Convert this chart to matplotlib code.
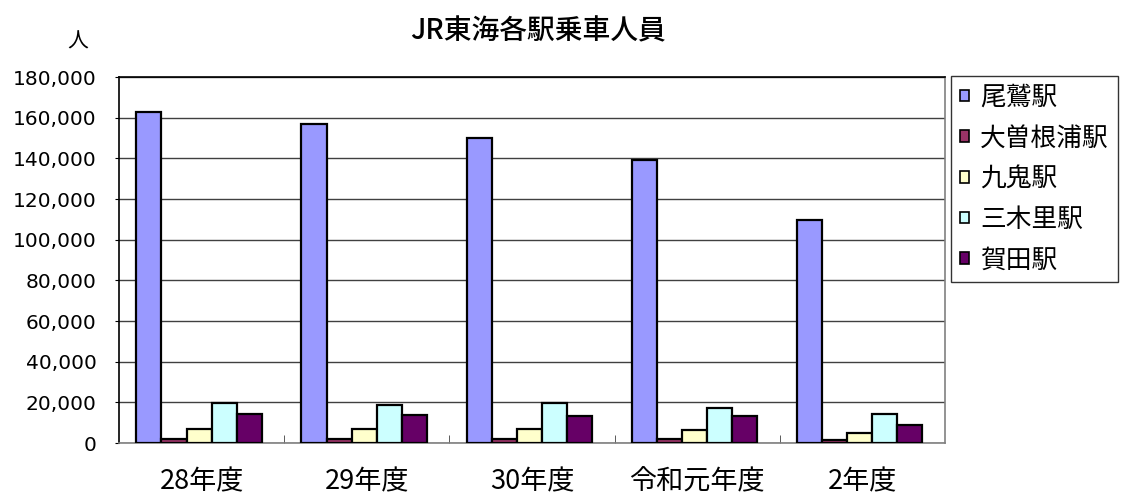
import numpy as np
import matplotlib
matplotlib.use("Agg")
import matplotlib.pyplot as plt
from matplotlib.ticker import FuncFormatter, FixedLocator

plt.rcParams['font.family'] = ['Noto Sans CJK JP', 'DejaVu Sans']

years = ['28年度', '29年度', '30年度', '令和元年度', '2年度']
stations = ['尾鷲駅', '大曽根浦駅', '九鬼駅', '三木里駅', '賀田駅']
owase = [162600, 156700, 150100, 139300, 109500]
osonehura = [2000, 2000, 2000, 2100, 1500]
kuki = [6700, 7100, 7100, 6200, 5100]
mikisato = [19600, 18500, 19600, 17400, 14400]
kata = [14300, 13900, 13300, 13100, 8800]
colors = ['#9999FF', '#993366', '#FFFFCC', '#CCFFFF', '#660066']

series = [owase, osonehura, kuki, mikisato, kata]

fig = plt.figure(figsize=(11.26, 4.93), dpi=100)
ax = fig.add_axes([0.1057, 0.1014, 0.7334, 0.7424])

x = np.arange(len(years))
w = 0.152
for i, (vals, name, c) in enumerate(zip(series, stations, colors)):
    ax.bar(x + (i - 2.1) * w, vals, width=w, color=c, edgecolor='black',
           linewidth=1.6, label=name, zorder=3)

ax.set_xlim(-0.5, len(years) - 0.5)
ax.set_ylim(0, 180000)
ax.set_yticks(np.arange(0, 180001, 20000))
ax.yaxis.set_major_formatter(FuncFormatter(lambda v, p: f'{int(v):,}'))
ax.grid(axis='y', color='#404040', linewidth=1.0, zorder=0)
ax.tick_params(axis='y', length=3, pad=13, colors='black')
for lab in ax.get_yticklabels():
    lab.set_fontfamily(['DejaVu Sans'])
    lab.set_fontsize(14.5)
ax.set_xticks(x)
ax.set_xticklabels(years, fontsize=19.5)
ax.tick_params(axis='x', length=0, pad=18)
ax.xaxis.set_minor_locator(FixedLocator(np.arange(0.5, len(years) - 0.5, 1)))
ax.tick_params(axis='x', which='minor', direction='in', length=6, color='#404040')

for s in ['left', 'top']:
    ax.spines[s].set_color('black')
for s in ['right', 'bottom']:
    ax.spines[s].set_color('#808080')
for s in ax.spines.values():
    s.set_linewidth(1.2)

fig.text(0.478, 0.938, 'JR東海各駅乗車人員', ha='center', va='center',
         fontsize=20, fontweight='medium')
fig.text(0.069, 0.915, '人', ha='center', va='center', fontsize=15)

leg = ax.legend(loc='upper left', bbox_to_anchor=(1.008, 1.003), fontsize=18.5,
                frameon=True, fancybox=False, edgecolor='black',
                handlelength=0.32, handleheight=0.32, handletextpad=0.45,
                labelspacing=0.57, borderpad=0.35, borderaxespad=0)
leg.get_frame().set_linewidth(1.0)
for h in leg.legend_handles:
    h.set_linewidth(1.2)

fig.savefig('out.png', dpi=100)
